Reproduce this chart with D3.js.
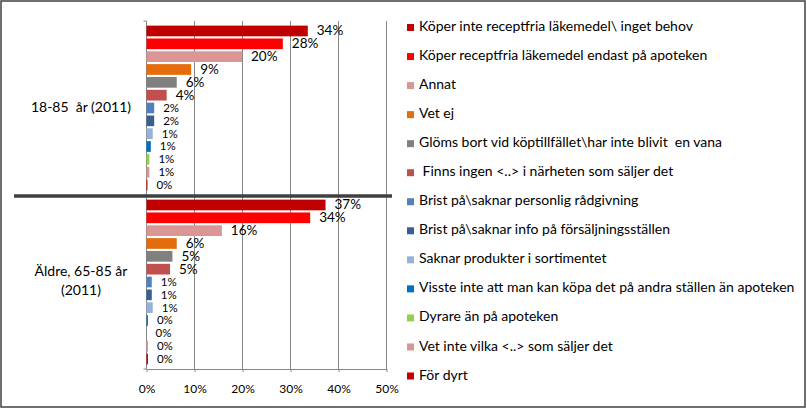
<!DOCTYPE html>
<html>
<head>
<meta charset="utf-8">
<script src="https://cdn.jsdelivr.net/npm/d3@7"></script>
<style>
  html, body { margin: 0; padding: 0; background: #fff; }
  svg { display: block; font-family: Lato, "Open Sans", sans-serif; }
  text { white-space: pre; }
</style>
</head>
<body>
<svg id="chart" width="807" height="409"></svg>
<script>
// ---- DATA ----
const categories = ["18-85  år (2011)", "Äldre, 65-85 år (2011)"];
const seriesNames = [
  "Köper inte receptfria läkemedel\\ inget behov",
  "Köper receptfria läkemedel endast på apoteken",
  "Annat",
  "Vet ej",
  "Glöms bort vid köptillfället\\har inte blivit  en vana",
  " Finns ingen <..> i närheten som säljer det",
  "Brist på\\saknar personlig rådgivning",
  "Brist på\\saknar info på försäljningsställen",
  "Saknar produkter i sortimentet",
  "Visste inte att man kan köpa det på andra ställen än apoteken",
  "Dyrare än på apoteken",
  "Vet inte vilka <..> som säljer det",
  "För dyrt"
];
const seriesColors = [
  "#C00000", "#FF0000", "#D99694", "#E46C0A", "#808080", "#C0504D",
  "#4F81BD", "#376092", "#95B3D7", "#0070C0", "#92D050", "#DA9694", "#C00000"
];
const values18to85 = [33.6, 28.4, 19.9, 9.3, 6.3, 4.2, 1.6, 1.6, 1.3, 0.9, 0.6, 0.6, 0.2];
const valuesAldre   = [37.3, 34.1, 15.7, 6.3, 5.4, 4.9, 1.1, 1.1, 1.3, 0.3, 0.0, 0.3, 0.3];
const xTicks = [0, 10, 20, 30, 40, 50];

const seriesValues = [values18to85, valuesAldre];

// ---- LAYOUT ----
const svg = d3.select("#chart");
const plot = { left: 146.5, right: 386.5, top: 21, bottom: 369 };

svg.append("rect")
  .attr("x", 1).attr("y", 1).attr("width", 804).attr("height", 406)
  .attr("fill", "#fff").attr("stroke", "#404040").attr("stroke-width", 1.5);

const x = d3.scaleLinear().domain([0, 50]).range([plot.left, plot.right]);
const y0 = d3.scaleBand().domain(categories).range([plot.top, plot.bottom]).padding(0);
const y1 = d3.scaleBand().domain(d3.range(seriesNames.length))
  .range([0, y0.bandwidth()]).paddingInner(0.166).paddingOuter(0.36);

// gridlines + bottom axis
const xAxis = d3.axisBottom(x).tickValues(xTicks).tickFormat(d => d + "%").tickSize(3).tickSizeOuter(0);
const gx = svg.append("g").attr("transform", `translate(0,${plot.bottom})`).call(xAxis);
gx.select(".domain").attr("stroke", "#868686");
gx.selectAll(".tick line").attr("stroke", "#868686");
gx.selectAll(".tick text").attr("fill", "#000").attr("font-size", 12).attr("dy", 0).attr("y", 24)
  .attr("font-family", "Lato, sans-serif");

svg.append("g").selectAll("line").data(xTicks.filter(d => d > 0)).join("line")
  .attr("x1", d => x(d)).attr("x2", d => x(d))
  .attr("y1", plot.top).attr("y2", plot.bottom)
  .attr("stroke", "#868686").attr("stroke-width", 1);

// left axis
svg.append("line").attr("x1", plot.left).attr("x2", plot.left)
  .attr("y1", plot.top).attr("y2", plot.bottom).attr("stroke", "#868686");
const boundaries = categories.map(c => y0(c)).concat([plot.bottom]);
svg.append("g").selectAll("line").data(boundaries).join("line")
  .attr("x1", plot.left - 3).attr("x2", plot.left)
  .attr("y1", d => d).attr("y2", d => d).attr("stroke", "#868686");

// bars
const groups = svg.append("g").selectAll("g").data(categories).join("g")
  .attr("transform", c => `translate(0,${y0(c)})`);

groups.each(function (c, ci) {
  const g = d3.select(this);
  const vals = seriesValues[ci];
  g.selectAll("rect").data(vals).join("rect")
    .attr("x", x(0))
    .attr("y", (v, i) => y1(i))
    .attr("width", v => Math.max(0, x(v) - x(0)))
    .attr("height", y1.bandwidth())
    .attr("fill", (v, i) => seriesColors[i]);
  g.selectAll("text").data(vals).join("text")
    .attr("x", v => x(v) + 9)
    .attr("y", (v, i) => y1(i) + y1.bandwidth() / 2 + 1)
    .attr("dominant-baseline", "middle")
    .attr("font-size", (v, i) => i < 6 ? 13.5 : 11.5)
    .attr("fill", "#000")
    .text(v => Math.round(v) + "%");
});

// category labels
svg.append("g").selectAll("text").data(categories).join("text")
  .attr("text-anchor", "middle")
  .attr("font-size", 14)
  .attr("fill", "#000")
  .each(function (c) {
    const lines = c.length > 18 ? [c.slice(0, c.lastIndexOf(" (")), c.slice(c.lastIndexOf(" (") + 1)] : [c];
    const cy = y0(c) + y0.bandwidth() / 2;
    const t = d3.select(this);
    lines.forEach((ln, k) => {
      t.append("tspan").attr("x", 81)
        .attr("y", cy + (k - (lines.length - 1) / 2) * 19)
        .attr("dominant-baseline", "middle")
        .text(ln);
    });
  });

// separator line
svg.append("line")
  .attr("x1", 14).attr("x2", 392)
  .attr("y1", y0(categories[1]) + 1).attr("y2", y0(categories[1]) + 1)
  .attr("stroke", "#404040").attr("stroke-width", 3.5);

// legend
const legendY = d3.scalePoint().domain(d3.range(seriesNames.length)).range([27.5, 376]);
const lg = svg.append("g").selectAll("g").data(seriesNames).join("g")
  .attr("transform", (d, i) => `translate(407,${legendY(i)})`);
lg.append("rect").attr("x", 0).attr("y", -3.5).attr("width", 7).attr("height", 7)
  .attr("fill", (d, i) => seriesColors[i]);
lg.append("text").attr("x", 12).attr("y", 0).attr("dominant-baseline", "middle")
  .attr("font-size", 14).attr("fill", "#000").text(d => d);
</script>
</body>
</html>
